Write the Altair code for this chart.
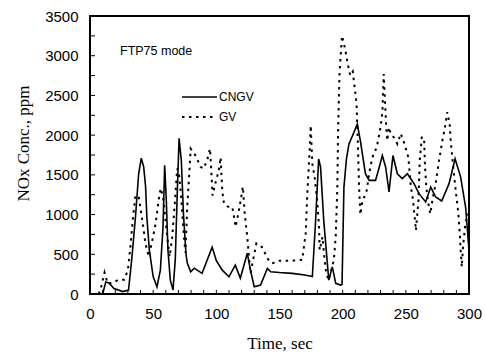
import altair as alt
import pandas as pd

# ---- data ----
cngv_t = [10, 12.5, 15, 19, 26, 30.5, 33, 36, 38.5, 40.6, 42.5, 44, 45, 47, 50, 53, 55.7, 57.8, 59.1, 60.4,
          61.7, 63.6, 65.7, 67.5, 68.9, 70.5, 72.3, 74, 76, 77, 79.7, 82.6, 88.7, 96.7, 100, 104.7, 110, 115,
          119, 124.5, 127, 130, 135, 140.4, 143, 150, 160, 170, 176, 178.5, 181, 182.5, 185, 189, 191.8,
          194.5, 198.4, 199.5, 201, 203, 205, 208, 211.6, 214, 218, 221, 226, 229, 231.4, 234, 236.7,
          239.8, 243.3, 247.2, 251.2, 256.5, 260.4, 265.7, 269.7, 273.6, 278.4, 284.2, 289, 293.4, 297.3, 300]
cngv_v = [0, 150, 140, 70, 30, 50, 430, 970, 1510, 1710, 1600, 1350, 970, 550, 220, 90, 300, 840, 1620, 1180,
          550, 175, 50, 430, 1180, 1960, 1680, 1000, 500, 390, 280, 325, 260, 590, 420, 300, 217, 364,
          200, 514, 300, 92, 113, 322, 280, 270, 260, 240, 220, 900, 1700, 1600, 930, 175, 342,
          134, 113, 120, 1346, 1700, 1890, 2000, 2140, 1930, 1515, 1430, 1430, 1600, 1744, 1600, 1284,
          1744, 1514, 1452, 1514, 1389, 1263, 1159, 1346, 1221, 1171, 1389, 1702, 1472, 1095, 552]

gv_t = [7, 9, 11.5, 14, 18, 22, 27, 30, 32, 34, 36, 38.5, 41, 44, 46.5, 49, 52, 54.5, 56, 58,
        61, 63, 65, 67.5, 69, 70.5, 72, 74, 75.5, 77, 78.5, 79.7, 83.6, 87.6, 90, 93, 95, 96, 97, 99.5,
        102, 103.4, 104.7, 106, 109, 112.6, 114, 115.3, 117.4, 119.3, 121, 122.5, 124.5, 126, 127, 131.7,
        135.9, 141, 144, 150, 160, 168, 170.7, 172, 174, 174.7, 176, 177.8, 179.9, 181.3, 181.8, 184,
        185.2, 187, 189, 193, 194.5, 195.8, 196.3, 197, 197.6, 199.5, 202, 204, 206, 208, 209.5, 211,
        212, 213, 214, 215.5, 217, 219, 221, 223.5, 227, 230, 231.5, 232.5, 233.5, 234.5, 235.3, 236.7,
        238, 240.6, 243.3, 246, 248.5, 252, 254, 255.7, 257, 258, 260, 261, 262.6, 264.4, 265.2, 266.2,
        267.8, 269.4, 271, 273.6, 276.3, 278.9, 281, 282.8, 284.7, 285.5, 287.5, 289.5, 291.6, 292.7,
        293.4, 294.3, 295.3, 296.9, 298.7, 300]
gv_v = [0, 100, 270, 130, 140, 175, 180, 300, 600, 960, 1240, 1230, 970, 630, 470, 650, 890, 1200, 1330, 1200,
        740, 470, 700, 1220, 1580, 1500, 1250, 800, 520, 1100, 1500, 1830, 1740, 1600, 1580, 1700, 1830, 1560, 1240, 1410,
        1560, 1720, 1300, 1140, 1100, 1096, 970, 845, 1012, 1180, 1350, 1000, 720, 430, 260, 636,
        594, 435, 385, 420, 420, 430, 760, 1260, 1850, 2120, 1640, 1470, 1160, 844, 552, 719,
        510, 260, 175, 427, 719, 1346, 1974, 2475, 2810, 3250, 3080, 2900, 2750, 2800, 2600, 2400,
        1900, 1350, 1000, 1160, 1220, 1300, 1520, 1720, 1850, 2100, 2300, 2770, 2430, 2100, 1930, 2100,
        2020, 1970, 1890, 2020, 1910, 1720, 1350, 1180, 970, 800, 1180, 1680, 1970, 1970, 1600, 1350,
        1140, 1010, 1180, 1390, 1680, 1930, 2100, 2290, 2140, 1930, 1600, 1300, 1010, 760,
        550, 340, 600, 850, 1010, 930]

x_labels = [0, 50, 100, 150, 200, 250, 300]
y_labels = [0, 500, 1000, 1500, 2000, 2500, 3000, 3500]
x_minor = list(range(10, 300, 10))
y_minor = list(range(250, 3500, 250))

assert len(cngv_t) == len(cngv_v)
assert len(gv_t) == len(gv_v)

W, H = 379, 278

cngv_df = pd.DataFrame({"t": cngv_t, "v": cngv_v})
gv_df = pd.DataFrame({"t": gv_t, "v": gv_v})

xs = alt.Scale(domain=[0, 300], nice=False, zero=False)
ys = alt.Scale(domain=[0, 3500], nice=False)

x_enc = alt.X("t:Q", scale=xs, axis=alt.Axis(values=x_labels, format="d", title="Time, sec", labelPadding=12,
                                             labelFlush=False, labelOverlap=False,
                                             titleY=49, titleBaseline="middle"))
y_enc = alt.Y("v:Q", scale=ys, axis=alt.Axis(values=y_labels, format="d", title="NOx Conc., ppm", labelPadding=12,
                                             labelFlush=False, labelOverlap=False,
                                             titleX=-67, titleY=127, titleAngle=-90,
                                             titleAlign="center", titleBaseline="middle"))

gv_line = alt.Chart(gv_df).mark_line(color="black", strokeWidth=2, strokeDash=[2.5, 4.5]).encode(
    x=x_enc, y=y_enc)
cngv_line = alt.Chart(cngv_df).mark_line(color="black", strokeWidth=1.6).encode(x=x_enc, y=y_enc)

xt = alt.Chart(pd.DataFrame({"t": x_minor})).mark_rule(color="black", strokeWidth=1).encode(
    x=x_enc, y=alt.value(H), y2=alt.value(H - 4))
yt = alt.Chart(pd.DataFrame({"v": y_minor})).mark_rule(color="black", strokeWidth=1).encode(
    y=y_enc, x=alt.value(0), x2=alt.value(5))

one = pd.DataFrame({"a": [0]})
frame = alt.Chart(one).mark_rect(filled=False, stroke="black", strokeWidth=2).encode(
    x=alt.value(0), x2=alt.value(W), y=alt.value(0), y2=alt.value(H))
mode_txt = alt.Chart(pd.DataFrame({"label": ["FTP75 mode"]})).mark_text(
    align="left", baseline="middle", font="Liberation Sans", fontSize=12.5, color="black").encode(
    x=alt.value(30), y=alt.value(35), text="label:N")
leg_solid = alt.Chart(one).mark_rule(color="black", strokeWidth=1.3).encode(
    x=alt.value(92), x2=alt.value(127), y=alt.value(81))
leg_dash = alt.Chart(one).mark_rule(color="black", strokeWidth=2, strokeDash=[2.5, 4.5]).encode(
    x=alt.value(92), x2=alt.value(123), y=alt.value(101))
leg_c = alt.Chart(pd.DataFrame({"label": ["CNGV"]})).mark_text(
    align="left", baseline="middle", font="Liberation Sans", fontSize=12, color="black").encode(
    x=alt.value(129), y=alt.value(81), text="label:N")
leg_g = alt.Chart(pd.DataFrame({"label": ["GV"]})).mark_text(
    align="left", baseline="middle", font="Liberation Sans", fontSize=12, color="black").encode(
    x=alt.value(129), y=alt.value(101), text="label:N")

chart = alt.layer(gv_line, cngv_line, xt, yt, frame, mode_txt, leg_solid, leg_dash, leg_c, leg_g).properties(
    width=W, height=H, autosize=alt.AutoSizeParams(type="none"), background="white",
    padding={"left": 90, "top": 16, "right": 17, "bottom": 64},
).configure_view(strokeWidth=0).configure_axis(
    labelFont="Liberation Sans", labelFontSize=15, labelColor="black",
    titleFont="Liberation Serif", titleFontSize=17, titleFontWeight="normal", titleColor="black",
    domain=False, ticks=False, grid=False,
)

chart.save("out.html", embed_options={"renderer": "svg", "actions": False})
